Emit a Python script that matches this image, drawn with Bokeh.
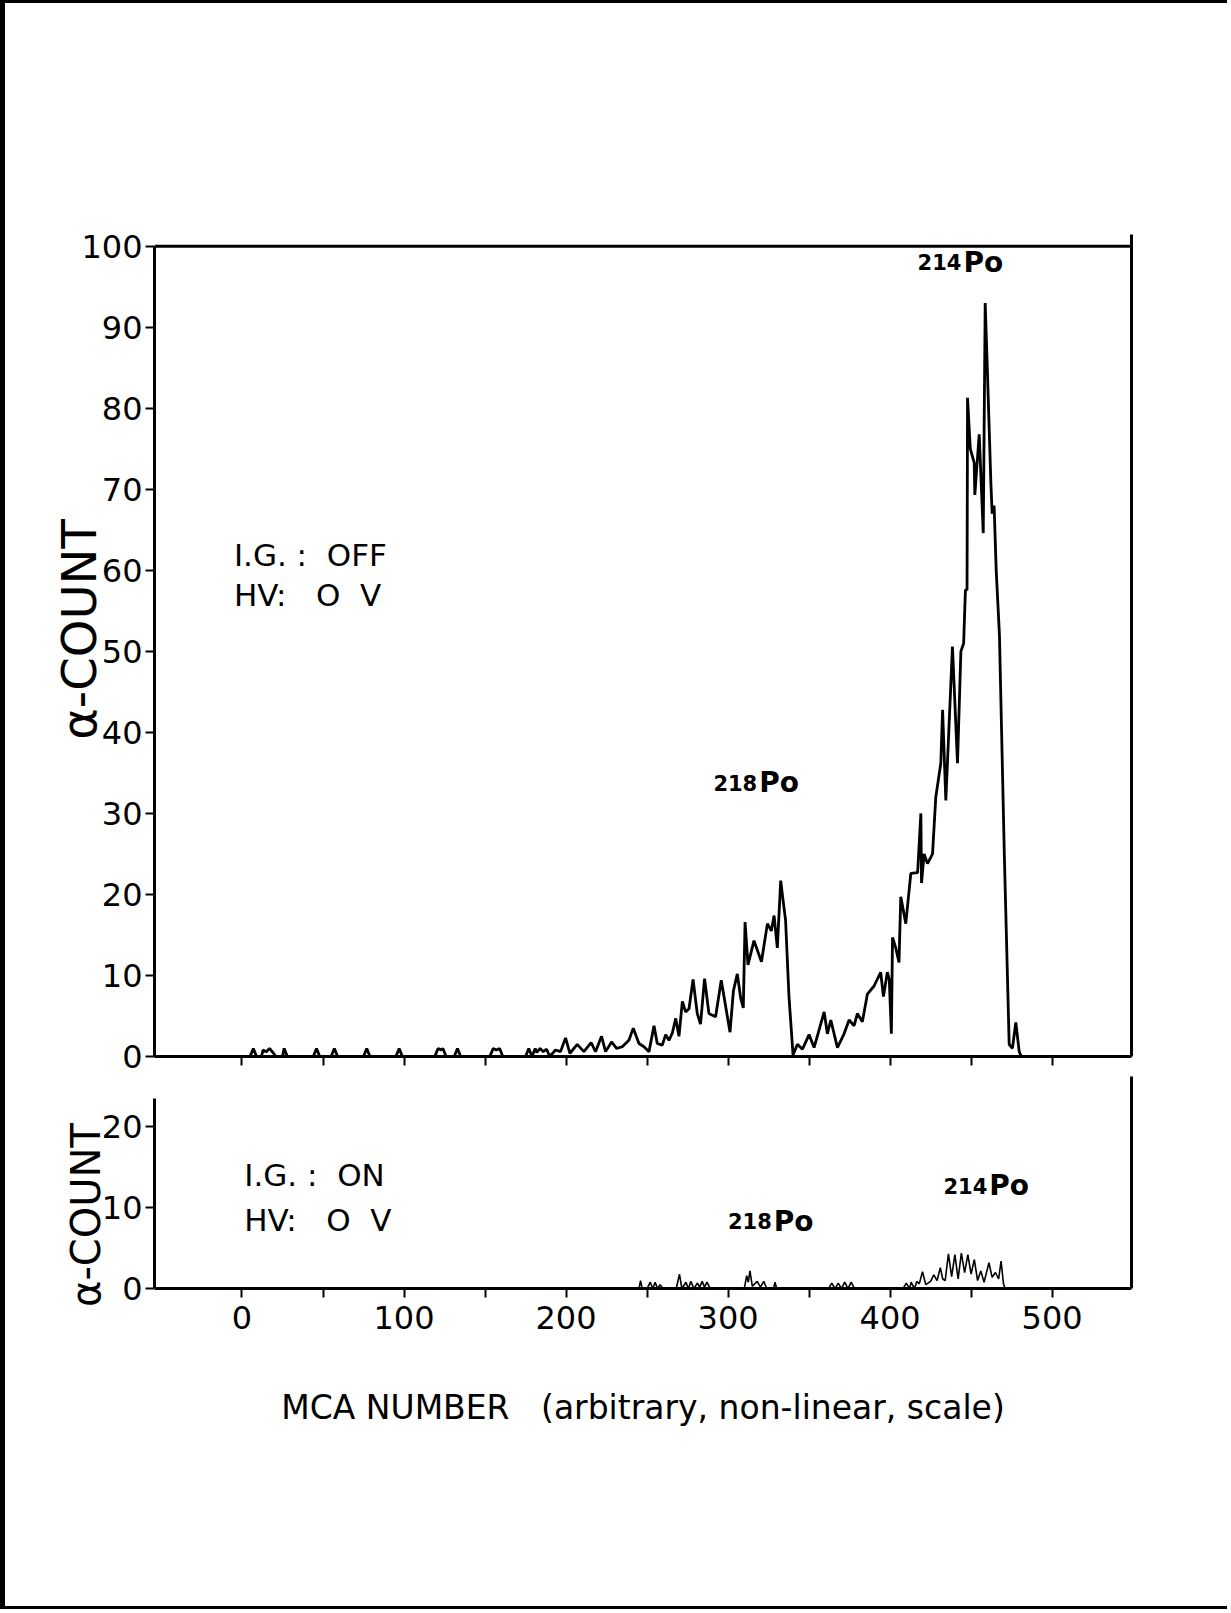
from bokeh.plotting import figure
from bokeh.layouts import column
from bokeh.models import FixedTicker, LinearAxis, Range1d, ColumnDataSource, Span
from bokeh.core.properties import value
from bokeh.embed import file_html
from bokeh.resources import INLINE

# ---------------- data ----------------
# Upper panel: I.G. OFF, HV 0 V
top_mca = [0, 5, 7, 9, 12, 13, 15, 17, 19, 21, 25, 26, 28, 44, 46, 48, 55, 57, 59,
           75, 77, 79, 95, 97, 99, 119, 121, 123, 124, 126, 131, 133, 135, 153, 155,
           157, 159, 161, 175, 177, 179, 181, 182, 184, 186, 188, 190, 193.5, 196.6,
           199.7, 202.4, 206.9, 211, 215.5, 218.2, 221.9, 224.4, 228.1, 231.2, 234.7,
           238.8, 241.5, 245, 248.1, 251.2, 254.3, 256.3, 259.4, 261.5, 263.5, 265.6,
           267.7, 269.7, 271.8, 273.8, 275.9, 278.4, 281, 283, 285.5, 288.2, 292.3,
           295.8, 298.5, 301.2, 303.3, 305.7, 307.8, 309.4, 310.5, 312.3, 316, 320.6,
           324.3, 326.7, 328.4, 330.4, 332.5, 333.5, 335.5, 337.6, 340.1, 342.8, 345.9,
           350, 353.1, 359.3, 361.3, 363.4, 367.5, 371.6, 374.7, 377.8, 379.8, 382.9,
           386, 390.1, 394.2, 395.9, 398.3, 399.5, 400.8, 401.5, 403.5, 405.5, 406.6,
           409.7, 412.8, 417, 419, 419.4, 421, 423.1, 426.2, 428.2, 431.3, 432.4, 434.4,
           438.5, 441.6, 443.7, 445.4, 446.5, 447.5, 447.8, 449.5, 451.9, 452.3, 455,
           457.5, 458.7, 460, 462.2, 463, 464.2, 465.5, 467.5, 470.5, 473.5, 475.5,
           477.6, 479.7, 481]
top_count = [0, 0, 1, 0, 0, 0.8, 0.6, 1, 0.5, 0, 0, 1, 0, 0, 1, 0, 0, 1, 0,
             0, 1, 0, 0, 1, 0, 0, 1, 0.8, 1, 0, 0, 1, 0, 0, 1,
             0.8, 1, 0, 0, 1, 0, 1, 0.5, 1, 0.6, 0.9, 0, 0.8, 0.6,
             2.3, 0.4, 1.5, 0.6, 1.7, 0.6, 2.5, 0.6, 1.8, 1.0, 1.2,
             2.0, 3.5, 1.6, 1.2, 0.6, 3.8, 1.6, 1.4, 2.7, 2.0, 2.9,
             4.7, 2.5, 6.8, 5.5, 5.9, 9.5, 5.3, 4.0, 9.6, 5.3, 4.9,
             9.4, 6.2, 3.0, 8.1, 10.2, 7.2, 6.0, 16.6, 11.3, 14.3, 11.7,
             16.4, 15.5, 17.4, 13.4, 21.7, 20.0, 16.8, 7.4, 0.2, 1.5, 0.9,
             2.7, 1.1, 5.5, 2.8, 4.5, 1.1, 2.8, 4.5, 3.8, 5.3, 4.3,
             7.7, 8.7, 10.4, 7.4, 10.4, 9.5, 2.8, 14.7, 13.4, 11.6, 19.7,
             16.4, 22.6, 22.7, 30.0, 21.4, 25.0, 23.8, 25.0, 32.0, 36.2, 42.8, 31.6,
             50.6, 36.2, 50.0, 51.0, 57.6, 57.6, 81.3, 75.0, 73.3, 69.3, 76.8,
             64.6, 93.0, 85.0, 70.8, 67.0, 68.0, 60.0, 52.0, 25.0, 1.5, 1.0,
             4.2, 0.6, 0]

# Lower panel: I.G. ON, HV 0 V
bot_mca = [245, 246, 247, 250, 252, 253.5, 255, 256.5, 258, 260, 268, 270, 271.5, 274,
           275.5, 277, 279, 281, 282.5, 284, 285.5, 287, 289, 310, 311.5, 312.5, 313.5,
           315, 318, 320, 322, 324, 328, 329, 330, 362, 364, 366, 368, 370, 372, 374,
           376, 378, 408, 410, 412, 413, 415, 416.5, 418, 420, 422, 425, 427, 429, 431,
           432.5, 434, 436, 438, 440, 442, 444, 446, 448, 450, 452, 454, 456, 458, 461,
           463, 465, 467, 468.5, 470, 471]
bot_count = [0, 1.0, 0, 0, 0.8, 0, 0.8, 0, 0.5, 0, 0, 1.8, 0, 0.8,
             0, 0.9, 0, 0.7, 0.2, 0.9, 0.2, 0.8, 0, 0, 1.6, 0.8, 2.2,
             0.3, 0.9, 0.2, 0.9, 0, 0, 0.8, 0, 0, 0.7, 0, 0.7, 0, 0.8, 0,
             0.8, 0, 0, 0.7, 0, 0.8, 0, 0.9, 0.6, 2.1, 0.5, 0.9, 1.7, 1.0, 2.6,
             1.2, 1.0, 4.3, 1.5, 4.2, 1.2, 4.4, 2.0, 4.2, 1.8, 3.6, 1.0, 2.2, 0.8, 3.2,
             1.4, 2.0, 1.2, 3.4, 0.6, 0]

x_label_ticks = [0, 100, 200, 300, 400, 500]
x_minor_ticks = [50, 150, 250, 350, 450]
x_all_ticks = [0, 50, 100, 150, 200, 250, 300, 350, 400, 450, 500]
top_y_ticks = [0, 10, 20, 30, 40, 50, 60, 70, 80, 90, 100]
bot_y_ticks = [0, 10, 20]

# peak labels: (mca, count, mass number)
top_peaks_x = [318, 444]
top_peaks_y = [33.8, 98.0]
top_peaks_mass = ["218", "214"]
bot_peaks_x = [327, 460]
bot_peaks_y = [8.3, 12.7]
bot_peaks_mass = ["218", "214"]

FONT = "DejaVu Sans"
NB = "\u00a0"


def style_axis(ax, label_size="32px"):
    ax.axis_line_width = 3
    ax.axis_line_color = "black"
    ax.major_tick_line_width = 2
    ax.major_tick_line_color = "black"
    ax.major_tick_in = 0
    ax.major_tick_out = 9
    ax.minor_tick_line_width = 2
    ax.minor_tick_line_color = "black"
    ax.minor_tick_in = 0
    ax.minor_tick_out = 9
    ax.major_label_text_font = FONT
    ax.major_label_text_font_size = label_size
    ax.major_label_text_color = "black"
    ax.axis_label_text_font = FONT
    ax.axis_label_text_font_style = "normal"
    ax.axis_label_text_color = "black"


# ---------------- upper panel ----------------
p1 = figure(width=1222, height=1073, x_range=Range1d(-54, 549), y_range=Range1d(0, 105.4),
            output_backend="svg", toolbar_location=None,
            min_border_left=149, min_border_right=96, min_border_top=199, min_border_bottom=20)
p1.grid.visible = False
p1.outline_line_color = None
p1.background_fill_color = "white"
p1.border_fill_color = "white"

style_axis(p1.xaxis[0])
p1.xaxis[0].ticker = FixedTicker(ticks=[], minor_ticks=x_all_ticks)

style_axis(p1.yaxis[0])
p1.yaxis[0].ticker = FixedTicker(ticks=top_y_ticks, minor_ticks=[])
p1.yaxis[0].bounds = (0, 100)
p1.yaxis[0].major_label_standoff = 3
p1.yaxis[0].axis_label = "α-COUNT"
p1.yaxis[0].axis_label_text_font_size = "48px"
p1.yaxis[0].axis_label_standoff = -29

right1 = LinearAxis(ticker=FixedTicker(ticks=[], minor_ticks=[]), bounds=(0, 101.5))
style_axis(right1)
p1.add_layout(right1, "right")
p1.add_layout(Span(location=100, dimension="width", line_color="black", line_width=3))

src_top = ColumnDataSource(dict(x=top_mca, y=top_count))
p1.line("x", "y", source=src_top, line_color="black", line_width=2.8)

p1.text(x=[-5, -5], y=[61.9, 57.0],
        text=["I.G." + NB + ":" + NB + NB + "OFF", "HV:" + NB + NB + NB + "O" + NB + NB + "V"],
        text_font=value(FONT), text_font_size="31px", text_baseline="middle",
        text_align="left", text_color="black")
p1.text(x=top_peaks_x, y=top_peaks_y, text=top_peaks_mass, text_font=value(FONT),
        text_font_size="21px", text_font_style="bold", text_align="right",
        text_baseline="middle", text_color="black")
p1.text(x=top_peaks_x, y=top_peaks_y, text=["Po"] * len(top_peaks_x), text_font=value(FONT),
        text_font_size="28px", text_font_style="bold", text_align="left",
        text_baseline="middle", text_color="black", x_offset=2)

# ---------------- lower panel ----------------
p2 = figure(width=1222, height=530, x_range=Range1d(-54, 549), y_range=Range1d(-8, 26.2),
            output_backend="svg", toolbar_location=None,
            min_border_left=149, min_border_right=96, min_border_top=0, min_border_bottom=253)
p2.grid.visible = False
p2.outline_line_color = None
p2.background_fill_color = "white"
p2.border_fill_color = "white"

style_axis(p2.xaxis[0])
p2.xaxis[0].ticker = FixedTicker(ticks=x_label_ticks, minor_ticks=x_minor_ticks)
p2.xaxis[0].fixed_location = 0
p2.xaxis[0].major_label_standoff = 8

# separate axis that only carries the x-axis title
title_ax = LinearAxis(ticker=FixedTicker(ticks=[], minor_ticks=[]))
style_axis(title_ax)
title_ax.axis_line_color = None
title_ax.axis_label = "MCA NUMBER" + NB + NB + NB + "(arbitrary, non-linear, scale)"
title_ax.axis_label_text_font_size = "33px"
title_ax.axis_label_standoff = 34
p2.add_layout(title_ax, "below")

style_axis(p2.yaxis[0])
p2.yaxis[0].ticker = FixedTicker(ticks=bot_y_ticks, minor_ticks=[])
p2.yaxis[0].bounds = (0, 23.5)
p2.yaxis[0].major_label_standoff = 3
p2.yaxis[0].axis_label = "α-COUNT"
p2.yaxis[0].axis_label_text_font_size = "40px"
p2.yaxis[0].axis_label_standoff = -10

right2 = LinearAxis(ticker=FixedTicker(ticks=[], minor_ticks=[]), bounds=(0, 26.2))
style_axis(right2)
p2.add_layout(right2, "right")

src_bot = ColumnDataSource(dict(x=bot_mca, y=bot_count))
p2.line("x", "y", source=src_bot, line_color="black", line_width=1.6)

p2.text(x=[1.4, 1.4], y=[14.1, 8.5],
        text=["I.G." + NB + ":" + NB + NB + "ON", "HV:" + NB + NB + NB + "O" + NB + NB + "V"],
        text_font=value(FONT), text_font_size="31px", text_baseline="middle",
        text_align="left", text_color="black")
p2.text(x=bot_peaks_x, y=bot_peaks_y, text=bot_peaks_mass, text_font=value(FONT),
        text_font_size="21px", text_font_style="bold", text_align="right",
        text_baseline="middle", text_color="black")
p2.text(x=bot_peaks_x, y=bot_peaks_y, text=["Po"] * len(bot_peaks_x), text_font=value(FONT),
        text_font_size="28px", text_font_style="bold", text_align="left",
        text_baseline="middle", text_color="black", x_offset=2)

layout = column(p1, p2, styles={"border-left": "5px solid black",
                                "border-top": "3px solid black",
                                "border-bottom": "3px solid black"})

open("out.html", "w").write(file_html(layout, INLINE))
